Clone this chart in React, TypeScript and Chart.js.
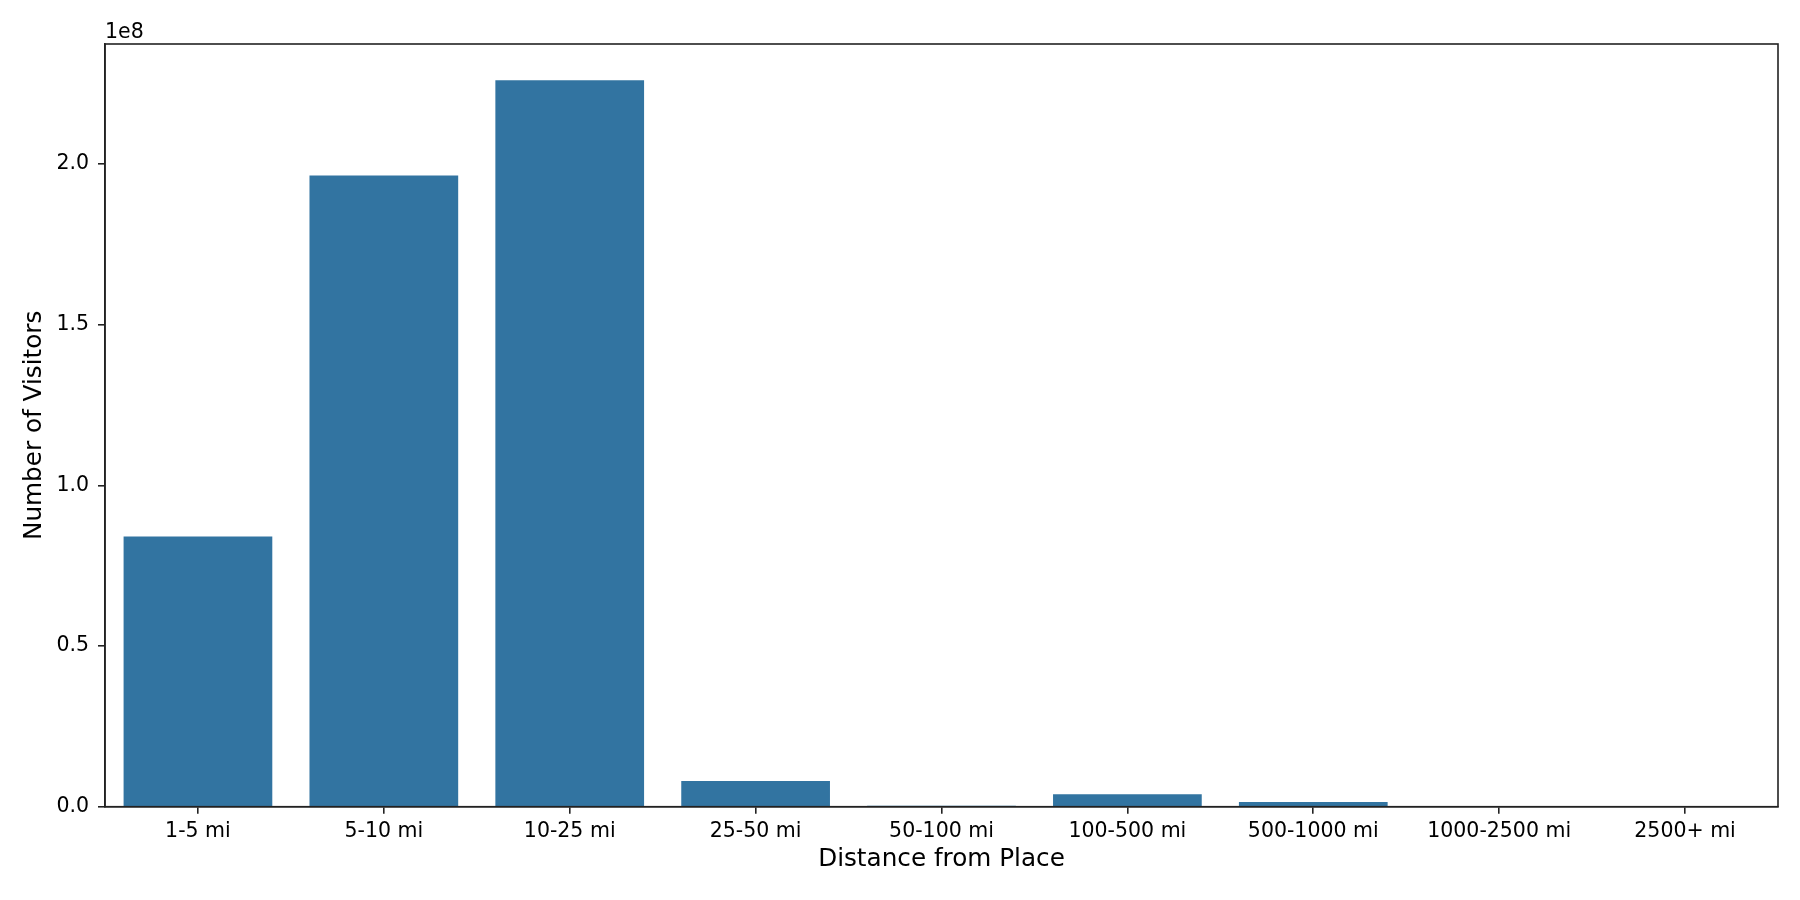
import { useEffect, useRef } from 'react';
import { Chart, registerables } from 'chart.js';

Chart.register(...registerables);

const distanceBins = ['1-5 mi', '5-10 mi', '10-25 mi', '25-50 mi', '50-100 mi', '100-500 mi', '500-1000 mi', '1000-2500 mi', '2500+ mi'];
const visitorCounts = [84100000, 196500000, 226100000, 8000000, 300000, 3900000, 1450000, 200000, 50000];
const yTickValues = [0, 50000000, 100000000, 150000000, 200000000];

const BAR_COLOR = '#3274a1';
const AXIS_COLOR = '#222222';
const FONT = '"DejaVu Sans", sans-serif';

// frame around the plot area + the "1e8" offset label
const framePlugin = {
    id: 'frame',
    afterDraw(chart: Chart) {
        const { ctx, chartArea } = chart;
        ctx.save();
        ctx.strokeStyle = AXIS_COLOR;
        ctx.lineWidth = 1.6;
        ctx.strokeRect(chartArea.left, chartArea.top, chartArea.right - chartArea.left, chartArea.bottom - chartArea.top);
        ctx.fillStyle = '#000';
        ctx.font = '20.5px ' + FONT;
        ctx.textAlign = 'left';
        ctx.textBaseline = 'alphabetic';
        ctx.fillText('1e8', chartArea.left, chartArea.top - 6);
        ctx.restore();
    }
};

const DistanceChart = () => {
    const chartRef = useRef<HTMLCanvasElement | null>(null);

    useEffect(() => {
        if (!chartRef.current) return;
        const ctx = chartRef.current.getContext('2d');
        if (!ctx) return;

        const yMax = Math.max(...visitorCounts) * 1.05;

        const myChart = new Chart(ctx, {
            type: 'bar',
            data: {
                labels: distanceBins,
                datasets: [{
                    label: 'Number of Visitors',
                    data: visitorCounts,
                    backgroundColor: BAR_COLOR,
                    borderWidth: 0,
                    categoryPercentage: 0.8,
                    barPercentage: 1.0
                }]
            },
            options: {
                animation: false,
                responsive: true,
                maintainAspectRatio: false,
                layout: { padding: { top: 44, right: 22, left: 0, bottom: 0 } },
                plugins: {
                    legend: { display: false },
                    tooltip: { enabled: false }
                },
                scales: {
                    x: {
                        afterFit: (scale: any) => { scale.height = 93.3; },
                        grid: {
                            offset: false,
                            drawOnChartArea: false,
                            drawTicks: true,
                            tickLength: 7,
                            color: AXIS_COLOR,
                            lineWidth: 1.6,
                            tickWidth: 1.6
                        },
                        border: { display: true, color: AXIS_COLOR, width: 1.6 },
                        ticks: {
                            color: '#000',
                            font: { family: FONT, size: 20.5 },
                            padding: 6,
                            maxRotation: 0,
                            autoSkip: false
                        },
                        title: {
                            display: true,
                            text: 'Distance from Place',
                            color: '#000',
                            font: { family: FONT, size: 24.7 },
                            padding: { top: 0, bottom: 26 }
                        }
                    },
                    y: {
                        min: 0,
                        max: yMax,
                        afterFit: (scale: any) => { scale.width = 105; },
                        afterBuildTicks: (scale: any) => {
                            scale.ticks = yTickValues.map(v => ({ value: v }));
                        },
                        grid: {
                            drawOnChartArea: false,
                            drawTicks: true,
                            tickLength: 7,
                            color: AXIS_COLOR,
                            lineWidth: 1.6,
                            tickWidth: 1.6
                        },
                        border: { display: true, color: AXIS_COLOR, width: 1.6 },
                        ticks: {
                            color: '#000',
                            font: { family: FONT, size: 20.5 },
                            padding: 9,
                            callback: (value: any) => (Number(value) / 1e8).toFixed(1)
                        },
                        title: {
                            display: true,
                            text: 'Number of Visitors',
                            color: '#000',
                            font: { family: FONT, size: 24.7 },
                            padding: { top: 19.5, bottom: 0 }
                        }
                    }
                }
            },
            plugins: [framePlugin]
        });

        return () => {
            myChart.destroy();
        };
    }, []);

    return (
        <div style={{ position: 'fixed', left: 0, top: 0, width: 1800, height: 900, background: '#fff' }}>
            <canvas ref={chartRef}></canvas>
        </div>
    );
};

export default function App() {
    return <DistanceChart />;
}
